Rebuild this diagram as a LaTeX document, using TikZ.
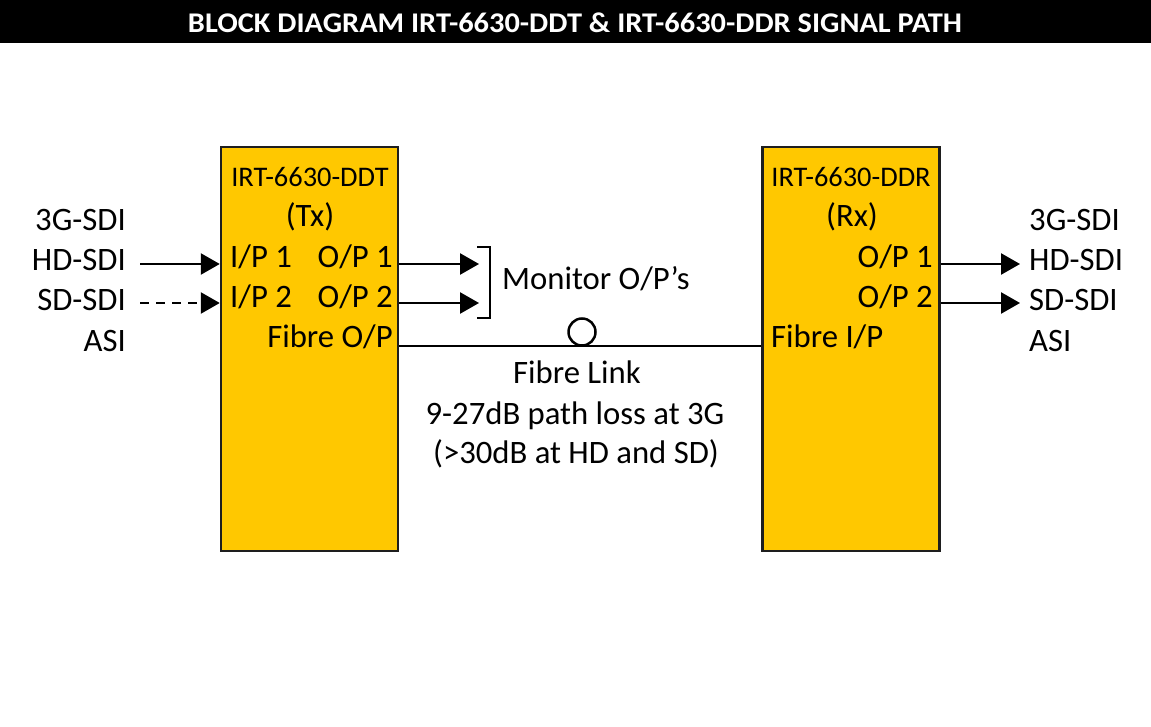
\documentclass[tikz,border=0pt]{standalone}
\usepackage{fontspec}
\setmainfont{Carlito}
\usetikzlibrary{arrows.meta}
\definecolor{boxfill}{RGB}{255,200,0}
\definecolor{boxline}{RGB}{30,30,30}
\begin{document}
\begin{tikzpicture}[x=1pt,y=-1pt,
  big/.style={font=\fontsize{32.7}{38}\selectfont, inner sep=0pt},
  small/.style={font=\fontsize{28.4}{33}\selectfont, inner sep=0pt},
  unit/.style={draw=boxline, line width=2.5pt, fill=boxfill, minimum width=177pt, minimum height=404pt, inner sep=0pt},
  sig/.style={line width=2.5pt, -{Triangle[length=19pt,width=21pt]}},
  wire/.style={line width=2.5pt},
  ]
\useasboundingbox (0,0) rectangle (1151,727);
\fill[white] (0,0) rectangle (1151,727);
% title bar
\node[fill=black, minimum width=1151pt, minimum height=43pt, inner sep=0pt, anchor=north west] (bar) at (0,0) {};
\node[text=white, font=\bfseries\fontsize{28.5}{30}\selectfont, inner sep=0pt, anchor=base] (title) at (575,33)
  {\resizebox{774pt}{\height}{BLOCK DIAGRAM IRT-6630-DDT \& IRT-6630-DDR SIGNAL PATH}};
% units
\node[unit] (tx) at (309.5,349) {};
\node[unit] (rx) at (851,349) {};
% Tx texts
\node[small, anchor=base] (txname) at (310,187) {IRT-6630-DDT};
\node[big, anchor=base] (txtag) at (310,227) {(Tx)};
\node[big, anchor=base west] (ip1) at (230,268) {I/P 1};
\node[big, anchor=base west] (ip2) at (230,308) {I/P 2};
\node[big, anchor=base east] (op1) at (393,268) {O/P 1};
\node[big, anchor=base east] (op2) at (393,308) {O/P 2};
\node[big, anchor=base east] (fop) at (393,347) {Fibre O/P};
% Rx texts
\node[small, anchor=base] (rxname) at (851,187) {IRT-6630-DDR};
\node[big, anchor=base] (rxtag) at (852,227) {(Rx)};
\node[big, anchor=base east] (rop1) at (933,268) {O/P 1};
\node[big, anchor=base east] (rop2) at (933,308) {O/P 2};
\node[big, anchor=base west] (fip) at (771,347) {Fibre I/P};
% left labels
\node[big, anchor=base east] (l3g) at (126,231) {3G-SDI};
\node[big, anchor=base east] (lhd) at (126,271) {HD-SDI};
\node[big, anchor=base east] (lsd) at (126,311) {SD-SDI};
\node[big, anchor=base east] (lasi) at (126,351) {ASI};
% right labels
\node[big, anchor=base west] (r3g) at (1029,231) {3G-SDI};
\node[big, anchor=base west] (rhd) at (1029,271) {HD-SDI};
\node[big, anchor=base west] (rsd) at (1029,311) {SD-SDI};
\node[big, anchor=base west] (rasi) at (1029,351) {ASI};
% monitor
\node[big, anchor=base west] (mon) at (502,290) {Monitor O/P’s};
% fibre link texts
\node[big, anchor=base] (fl1) at (577,383) {Fibre Link};
\node[big, anchor=base] (fl2) at (575,424) {9-27dB path loss at 3G};
\node[big, anchor=base] (fl3) at (576,463) {(>30dB at HD and SD)};
% coordinates
\coordinate (in1) at (140,264);
\coordinate (in2) at (140,303);
\coordinate (m1) at (479,264);
\coordinate (m2) at (479,303);
\coordinate (o1) at (1020,264);
\coordinate (o2) at (1020,303);
\coordinate (f1) at (398,346);
\coordinate (brt) at (477,247);
\coordinate (brb) at (477,318);
% connectors
\draw[sig] (in1) -- (in1 -| tx.west);
\draw[sig, dash pattern=on 9pt off 7pt] (in2) -- (in2 -| tx.west);
\draw[sig] (m1 -| tx.east) -- (m1);
\draw[sig] (m2 -| tx.east) -- (m2);
\draw[sig] (o1 -| rx.east) -- (o1);
\draw[sig] (o2 -| rx.east) -- (o2);
\draw[wire] (f1 -| tx.east) -- (f1 -| rx.west);
\draw[wire, line cap=butt] (brt) -- ++(13,0) |- (brb);
\node[draw, line width=2.5pt, circle, minimum size=27pt, inner sep=0pt] (fcirc) at (582,332) {};
\end{tikzpicture}
\end{document}
